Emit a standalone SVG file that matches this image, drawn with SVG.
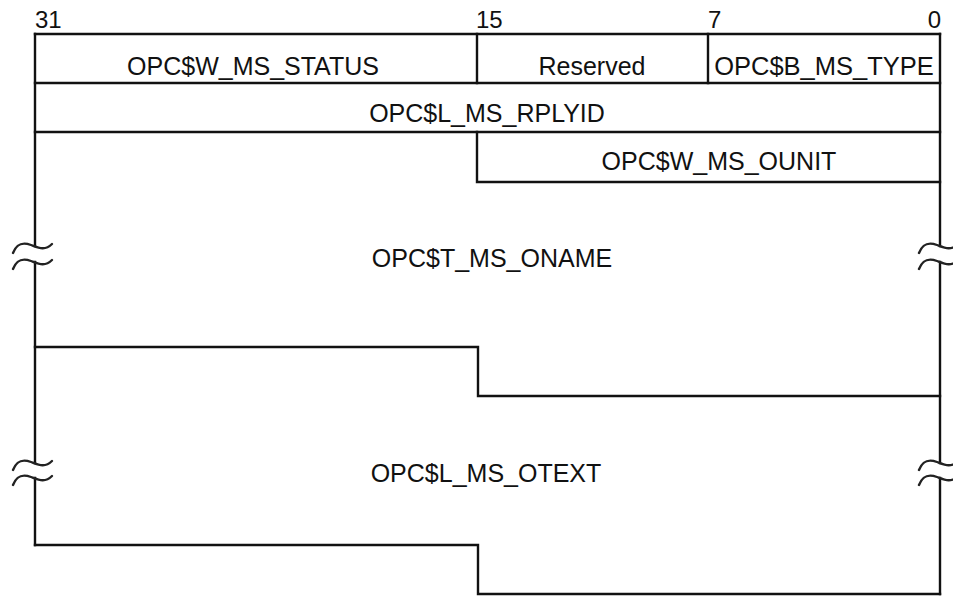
<svg xmlns="http://www.w3.org/2000/svg" xmlns:xlink="http://www.w3.org/1999/xlink" width="953" height="596" viewBox="0 0 953 596">
<style>
.ln{fill:none;stroke:#111;stroke-width:2.4;stroke-linecap:square}
.tl{fill:none;stroke:#222;stroke-width:2.4;stroke-linecap:round}
.lbl{font-family:"Liberation Sans",Arial,sans-serif;font-size:25px;fill:#111;text-anchor:middle}
.num{font-family:"Liberation Sans",Arial,sans-serif;font-size:24px;fill:#111}
</style>
<defs>
<path id="tilde" d="M-21,10 C-17,0 -11,-1 -3,2 S11,8 18,1"/>
</defs>
<rect width="953" height="596" fill="#fff"/>
<g id="bit-numbers">
<text class="num" x="35" y="28">31</text>
<text class="num" x="476" y="28">15</text>
<text class="num" x="708" y="28">7</text>
<text class="num" x="941" y="28" text-anchor="end">0</text>
</g>
<g id="connectors">
<path class="ln" d="M35,34 H940 M35,83 H940 M35,132 H940"/>
<path class="ln" d="M477,34 V83 M708,34 V83"/>
<path class="ln" d="M477,132 V182 H940"/>
<path class="ln" d="M35,347 H478 V396 H940"/>
<path class="ln" d="M35,545 H478 V594 H940"/>
<path class="ln" d="M35,34 V246 M35,262 V463 M35,478 V545"/>
<path class="ln" d="M940,34 V246 M940,262 V463 M940,478 V594"/>
<g class="tl">
<use xlink:href="#tilde" transform="translate(34,243)"/>
<use xlink:href="#tilde" transform="translate(34,259)"/>
<use xlink:href="#tilde" transform="translate(940,243)"/>
<use xlink:href="#tilde" transform="translate(940,259)"/>
<use xlink:href="#tilde" transform="translate(34,460)"/>
<use xlink:href="#tilde" transform="translate(34,475)"/>
<use xlink:href="#tilde" transform="translate(940,460)"/>
<use xlink:href="#tilde" transform="translate(940,475)"/>
</g>
</g>
<g id="status"><text class="lbl" x="253" y="75">OPC$W_MS_STATUS</text></g>
<g id="reserved"><text class="lbl" x="592" y="75">Reserved</text></g>
<g id="type"><text class="lbl" x="824" y="75" style="font-size:25.5px">OPC$B_MS_TYPE</text></g>
<g id="rplyid"><text class="lbl" x="487" y="122">OPC$L_MS_RPLYID</text></g>
<g id="ounit"><text class="lbl" x="719" y="170">OPC$W_MS_OUNIT</text></g>
<g id="oname"><text class="lbl" x="492" y="267">OPC$T_MS_ONAME</text></g>
<g id="otext"><text class="lbl" x="486" y="482">OPC$L_MS_OTEXT</text></g>
</svg>
